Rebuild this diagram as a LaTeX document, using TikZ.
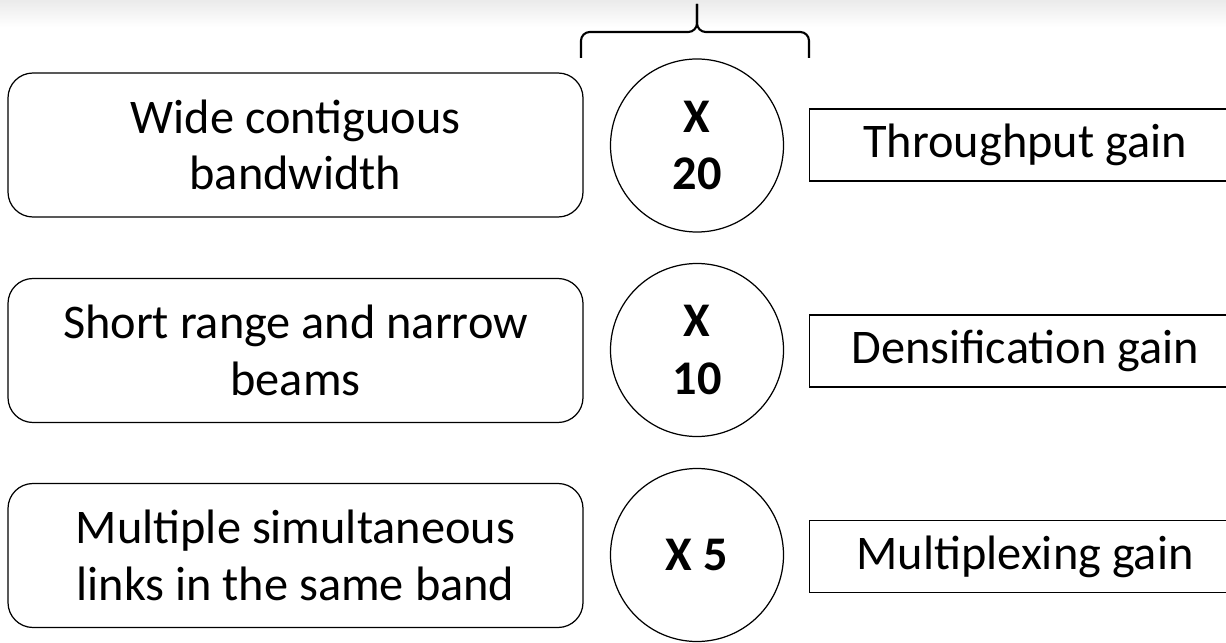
\documentclass[tikz,border=0pt]{standalone}
\usepackage{fontspec}
\setmainfont{Carlito}
\usetikzlibrary{positioning,shapes.geometric}

\begin{document}
\begin{tikzpicture}[
		x=1cm,y=1cm,
		font=\fontsize{27.5}{32}\selectfont,
		feat/.style={draw,rounded corners=0.5cm,line width=0.7pt,minimum width=11.5cm,minimum height=2.88cm,align=center},
		fac/.style={draw,circle,line width=0.7pt,minimum size=3.46cm,inner sep=0pt,align=center,font=\fontsize{27.5}{33}\selectfont\bfseries},
		gain/.style={draw,line width=0.7pt,anchor=west,minimum height=1.44cm,minimum width=8.62cm,align=center},
		brc/.style={line width=1.2pt,rounded corners=5pt}
		]
		\useasboundingbox (0,0) rectangle (24.52,12.84);
		\shade[top color=black!8,bottom color=white] (0,12.3) rectangle (24.52,12.84);

		% left column: what mmWave brings
		\node[feat] (f1) at (5.91,9.94) {Wide contiguous\\bandwidth};
		\node[feat] (f2) at (5.91,5.83) {Short range and narrow\\beams};
		\node[feat] (f3) at (5.91,1.73) {Multiple simultaneous\\links in the same band};

		% factors
		\node[fac] (c1) at (13.94,9.93) {X\\20};
		\node[fac] (c2) at (13.94,5.84) {X\\10};
		\node[fac] (c3) at (13.94,1.74) {X 5};

		% right column: gains
		\node[gain] (g1) at (16.18,9.94) {Throughput gain};
		\node[gain] (g2) at (16.18,5.82) {Densification gain};
		\node[gain] (g3) at (16.18,1.71) {Multiplexing gain};

		% brace over the factors
		\coordinate (bl) at (11.62,11.68);
		\coordinate (br) at (16.18,11.68);
		\coordinate (bm) at (13.94,12.2);
		\coordinate (bt) at (13.94,12.76);
		\draw[brc] (bl) |- (bm) -- (bt);
		\draw[brc] (br) |- (bm) -- (bt);
	\end{tikzpicture}
\end{document}
